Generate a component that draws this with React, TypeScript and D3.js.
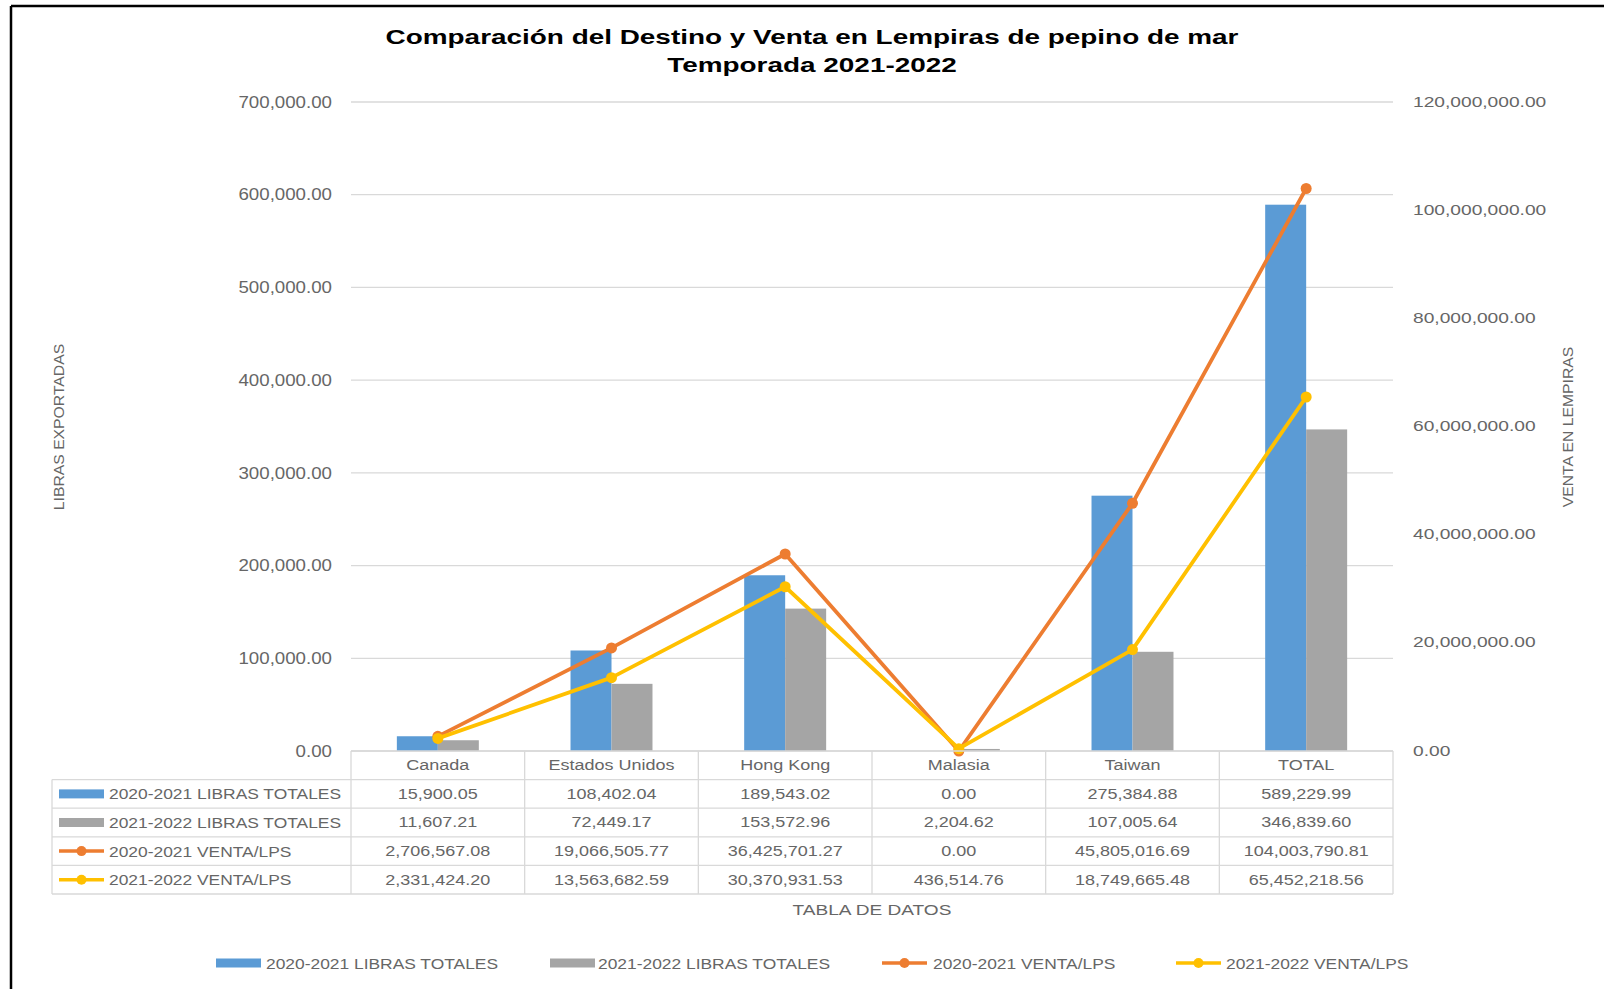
import React from 'react';
import * as d3 from 'd3';

const categories = ['Canada', 'Estados Unidos', 'Hong Kong', 'Malasia', 'Taiwan', 'TOTAL'];
const libras2021 = [15900.05, 108402.04, 189543.02, 0, 275384.88, 589229.99];
const libras2122 = [11607.21, 72449.17, 153572.96, 2204.62, 107005.64, 346839.6];
const venta2021 = [2706567.08, 19066505.77, 36425701.27, 0, 45805016.69, 104003790.81];
const venta2122 = [2331424.2, 13563682.59, 30370931.53, 436514.76, 18749665.48, 65452218.56];
const leftTicks = [0, 100000, 200000, 300000, 400000, 500000, 600000, 700000];
const rightTicks = [0, 20000000, 40000000, 60000000, 80000000, 100000000, 120000000];

const series = [
  { name: '2020-2021 LIBRAS TOTALES', values: libras2021, color: '#5B9BD5', kind: 'bar' },
  { name: '2021-2022 LIBRAS TOTALES', values: libras2122, color: '#A5A5A5', kind: 'bar' },
  { name: '2020-2021 VENTA/LPS', values: venta2021, color: '#ED7D31', kind: 'line' },
  { name: '2021-2022 VENTA/LPS', values: venta2122, color: '#FFC000', kind: 'line' },
];

const FONT = '"Liberation Sans", Arial, sans-serif';
const GRID = '#d9d9d9';
const TXT = '#666666';
const fmt = d3.format(',.2f');

// stretched text helper (the reference is widened horizontally)
const T = ({ x, y, size, sx = 1, anchor = 'middle', weight = 'normal', fill = TXT, rotate = 0, children }: any) => (
  <text
    transform={`translate(${x},${y}) rotate(${rotate}) scale(${sx},1)`}
    fontSize={size}
    fontFamily={FONT}
    fontWeight={weight}
    textAnchor={anchor}
    dominantBaseline="central"
    fill={fill}
  >
    {children}
  </text>
);

const Key = ({ s, x, y }: any) =>
  s.kind === 'bar' ? (
    <rect x={x} y={y - 4.5} width={45} height={9} fill={s.color} />
  ) : (
    <g>
      <line x1={x} x2={x + 45} y1={y} y2={y} stroke={s.color} strokeWidth={3.5} />
      <circle cx={x + 22.5} cy={y} r={5} fill={s.color} />
    </g>
  );

export default function App() {
  const W = 1604, H = 989;
  const plotL = 351, plotR = 1393, plotT = 102, plotB = 751;
  const rowH = 28.6;
  const tableL = 52;

  const x = d3.scaleBand().domain(categories).range([plotL, plotR]).padding(0);
  const yL = d3.scaleLinear().domain([0, 700000]).range([plotB, plotT]);
  const yR = d3.scaleLinear().domain([0, 120000000]).range([plotB, plotT]);
  const bw = x.bandwidth() * 0.236;
  const inner = d3.scaleBand().domain(['0', '1']).range([0, bw * 2]);
  const cx = (c: string) => (x(c) as number) + x.bandwidth() / 2;

  const bars = series.filter(s => s.kind === 'bar');
  const lines = series.filter(s => s.kind === 'line');
  const lineGen = (vals: number[]) =>
    d3.line<string>().x(c => cx(c)).y((c, i) => yR(vals[i]))(categories) as string;

  const tableB = plotB + rowH * 5;
  const legendItems = [
    { s: series[0], kx: 216, tx: 266 },
    { s: series[1], kx: 550, tx: 598 },
    { s: series[2], kx: 882, tx: 933 },
    { s: series[3], kx: 1176, tx: 1226 },
  ];

  return (
    <svg width={W} height={H} style={{ position: 'absolute', left: 0, top: 0, background: '#fff' }}>
      <rect width={W} height={H} fill="#fff" />
      {/* frame */}
      <line x1={11} x2={11} y1={6} y2={H} stroke="#000" strokeWidth={2.5} />
      <line x1={11} x2={W} y1={6} y2={6} stroke="#000" strokeWidth={2.5} />

      {/* title */}
      <T x={812} y={37} size={21} sx={1.33} weight="bold" fill="#000">
        Comparación del Destino y Venta en Lempiras de pepino de mar
      </T>
      <T x={812} y={65} size={21} sx={1.33} weight="bold" fill="#000">
        Temporada 2021-2022
      </T>

      {/* gridlines */}
      {leftTicks.map(t => (
        <line key={t} x1={plotL} x2={plotR} y1={yL(t)} y2={yL(t)} stroke={GRID} strokeWidth={1.3} />
      ))}
      {leftTicks.map(t => (
        <T key={'l' + t} x={332} y={yL(t)} size={17} sx={1.1} anchor="end">{fmt(t)}</T>
      ))}
      {rightTicks.map(t => (
        <T key={'r' + t} x={1413} y={yR(t)} size={14} sx={1.37} anchor="start">{fmt(t)}</T>
      ))}

      <T x={59} y={427} size={15} sx={1.05} rotate={-90}>LIBRAS EXPORTADAS</T>
      <T x={1568} y={427} size={15} sx={1.05} rotate={-90}>VENTA EN LEMPIRAS</T>

      {/* bars */}
      {bars.map((s, si) =>
        categories.map((c, i) => (
          <rect
            key={s.name + c}
            x={cx(c) - bw + (inner(String(si)) as number)}
            y={yL(s.values[i])}
            width={inner.bandwidth()}
            height={plotB - yL(s.values[i])}
            fill={s.color}
          />
        ))
      )}

      {/* lines */}
      {lines.map(s => (
        <g key={s.name}>
          <path d={lineGen(s.values)} fill="none" stroke={s.color} strokeWidth={3.8} strokeLinejoin="round" />
          {categories.map((c, i) => (
            <circle key={c} cx={cx(c)} cy={yR(s.values[i])} r={5.5} fill={s.color} />
          ))}
        </g>
      ))}

      {/* data table */}
      <g>
        <line x1={plotL} x2={plotR} y1={plotB} y2={plotB} stroke={GRID} strokeWidth={1.3} />
        {d3.range(1, 6).map(r => (
          <line key={r} x1={tableL} x2={plotR} y1={plotB + r * rowH} y2={plotB + r * rowH} stroke={GRID} strokeWidth={1.3} />
        ))}
        <line x1={tableL} x2={tableL} y1={plotB + rowH} y2={tableB} stroke={GRID} strokeWidth={1.3} />
        {d3.range(0, 7).map(k => {
          const xx = plotL + k * x.bandwidth();
          return <line key={k} x1={xx} x2={xx} y1={plotB} y2={tableB} stroke={GRID} strokeWidth={1.3} />;
        })}
        {categories.map(c => (
          <T key={c} x={cx(c)} y={plotB + rowH / 2} size={15} sx={1.2}>{c}</T>
        ))}
        {series.map((s, si) => {
          const yy = plotB + rowH * (si + 1) + rowH / 2;
          return (
            <g key={s.name}>
              <Key s={s} x={59} y={yy} />
              <T x={109} y={yy} size={15} sx={1.16} anchor="start">{s.name}</T>
              {categories.map((c, i) => (
                <T key={c} x={cx(c)} y={yy} size={15} sx={1.2}>{fmt(s.values[i])}</T>
              ))}
            </g>
          );
        })}
      </g>
      <T x={872} y={910} size={15.5} sx={1.23}>TABLA DE DATOS</T>

      {/* legend */}
      {legendItems.map(({ s, kx, tx }) => (
        <g key={s.name}>
          <Key s={s} x={kx} y={963} />
          <T x={tx} y={963} size={15} sx={1.16} anchor="start">{s.name}</T>
        </g>
      ))}
    </svg>
  );
}
